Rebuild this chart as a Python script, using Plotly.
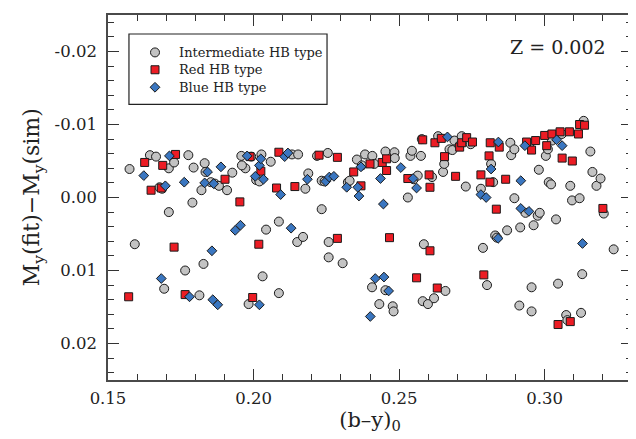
import plotly.graph_objects as go

# Intermediate HB type
int_x = [0.1574, 0.1592, 0.1644, 0.1665, 0.1677, 0.1686, 0.1693, 0.1709, 0.1709, 0.1727,
         0.1765, 0.1776, 0.1790, 0.1794, 0.1814, 0.1821, 0.1828, 0.1832, 0.1835, 0.1853,
         0.1867, 0.1881, 0.1909, 0.1927, 0.1958, 0.1972, 0.1960, 0.1983, 0.1992, 0.2009,
         0.2020, 0.2027, 0.2031, 0.2043, 0.2059, 0.2087, 0.2087, 0.2132, 0.2150, 0.2153,
         0.2170, 0.2178, 0.2188, 0.2218, 0.2234, 0.2234, 0.2244, 0.2255, 0.2258, 0.2258,
         0.2306, 0.2324, 0.2330, 0.2355, 0.2372, 0.2383, 0.2408, 0.2407, 0.2415, 0.2432,
         0.2453, 0.2453, 0.2478, 0.2481, 0.2484, 0.2485, 0.2530, 0.2539, 0.2544, 0.2550,
         0.2564, 0.2575, 0.2578, 0.2585, 0.2581, 0.2599, 0.2613, 0.2620, 0.2634, 0.2651,
         0.2655, 0.2659, 0.2673, 0.2683, 0.2690, 0.2715, 0.2729, 0.2746, 0.2781, 0.2788,
         0.2802, 0.2816, 0.2823, 0.2830, 0.2836, 0.2871, 0.2882, 0.2885, 0.2896, 0.2896,
         0.2913, 0.2916, 0.2934, 0.2955, 0.2955, 0.2962, 0.2976, 0.2980, 0.2983, 0.3004,
         0.3011, 0.3014, 0.3022, 0.3039, 0.3046, 0.3074, 0.3078, 0.3088, 0.3094, 0.3120,
         0.3125, 0.3129, 0.3134, 0.3157, 0.3164, 0.3178, 0.3192, 0.3203, 0.3237, 0.2948,
         0.3025, 0.3059, 0.2707]
int_y = [-0.0039, 0.0064, -0.0058, -0.0056, -0.0014, -0.0012, 0.0125, 0.0020, -0.0040, -0.0048,
         0.0100, -0.0058, 0.0007, -0.0041, 0.0134, -0.0010, 0.0091, -0.0047, -0.0035, -0.0021,
         -0.0019, -0.0016, -0.0010, -0.0034, -0.0057, -0.0040, -0.0044, 0.0146, -0.0056, -0.0024,
         -0.0022, -0.0059, 0.0108, 0.0044, -0.0049, 0.0033, 0.0131, -0.0059, 0.0061, -0.0059,
         0.0054, -0.0012, -0.0033, -0.0057, 0.0016, -0.0023, -0.0022, -0.0061, 0.0061, 0.0082,
         0.0090, -0.0021, -0.0023, -0.0052, -0.0044, -0.0059, -0.0057, 0.0123, -0.0046, 0.0146,
         -0.0063, 0.0127, 0.0149, 0.0156, -0.0062, -0.0054, 0.0000, -0.0057, -0.0064, -0.0025,
         -0.0030, -0.0057, -0.0080, 0.0064, 0.0142, 0.0146, -0.0028, 0.0138, -0.0084, -0.0035,
         -0.0046, 0.0128, -0.0066, -0.0065, -0.0078, -0.0084, -0.0015, -0.0073, -0.0012, 0.0069,
         0.0120, -0.0046, -0.0021, 0.0052, 0.0055, 0.0045, -0.0075, -0.0058, 0.0001, -0.0066,
         0.0148, 0.0041, 0.0021, 0.0123, 0.0156, 0.0038, 0.0025, -0.0038, 0.0021, -0.0057,
         -0.0066, -0.0021, -0.0018, 0.0030, 0.0118, 0.0161, 0.0168, -0.0016, 0.0004, 0.0001,
         0.0158, 0.0105, -0.0105, -0.0063, -0.0035, -0.0016, -0.0026, 0.0022, 0.0071, -0.0074,
         -0.0078, -0.0087, -0.0071]

# Red HB type
red_x = [0.1571, 0.1626, 0.1648, 0.1688, 0.1683, 0.1727, 0.1732, 0.1765, 0.1902, 0.1953,
         0.1988, 0.1997, 0.2018, 0.2025, 0.2079, 0.2087, 0.2142, 0.2225, 0.2288, 0.2288,
         0.2344, 0.2369, 0.2400, 0.2442, 0.2457, 0.2457, 0.2467, 0.2530, 0.2560, 0.2581,
         0.2603, 0.2606, 0.2606, 0.2623, 0.2631, 0.2645, 0.2656, 0.2694, 0.2708, 0.2715,
         0.2732, 0.2752, 0.2781, 0.2791, 0.2809, 0.2813, 0.2812, 0.2834, 0.2844, 0.2866,
         0.2938, 0.2955, 0.2969, 0.3000, 0.3007, 0.3025, 0.3046, 0.3053, 0.3060, 0.3088,
         0.3085, 0.3095, 0.3116, 0.3120, 0.3137, 0.3200]
red_y = [0.0136, -0.0048, -0.0010, -0.0044, -0.0013, 0.0068, -0.0059, 0.0133, -0.0025, 0.0006,
         -0.0056, 0.0137, 0.0064, -0.0036, -0.0013, -0.0062, -0.0015, -0.0058, -0.0055, 0.0056,
         -0.0035, -0.0016, -0.0046, -0.0048, -0.0037, -0.0053, 0.0055, -0.0026, 0.0110, -0.0079,
         -0.0031, -0.0014, 0.0073, -0.0075, 0.0124, -0.0081, -0.0056, -0.0029, -0.0069, -0.0075,
         -0.0082, -0.0076, -0.0031, 0.0106, -0.0057, -0.0075, -0.0021, 0.0016, -0.0069, -0.0025,
         -0.0076, -0.0065, -0.0078, -0.0085, -0.0071, -0.0087, 0.0174, -0.0090, -0.0054, 0.0170,
         -0.0090, -0.0050, -0.0087, -0.0100, -0.0099, 0.0015]

# Blue HB type
blue_x = [0.1623, 0.1683, 0.1697, 0.1711, 0.1762, 0.1780, 0.1832, 0.1842, 0.1857, 0.1860,
          0.1863, 0.1877, 0.1888, 0.1937, 0.1955, 0.1978, 0.2006, 0.2020, 0.2020, 0.2025,
          0.2034, 0.2093, 0.2107, 0.2118, 0.2129, 0.2185, 0.2248, 0.2260, 0.2276, 0.2320,
          0.2358, 0.2362, 0.2369, 0.2401, 0.2418, 0.2436, 0.2446, 0.2448, 0.2464, 0.2506,
          0.2548, 0.2560, 0.2666, 0.2781, 0.2799, 0.2816, 0.2840, 0.2841, 0.2918, 0.2918,
          0.2932, 0.2946, 0.3041, 0.3060, 0.3130]
blue_y = [-0.0030, 0.0111, -0.0016, -0.0057, -0.0021, 0.0136, -0.0020, -0.0035, 0.0073, 0.0140,
          -0.0019, 0.0147, -0.0042, 0.0045, 0.0038, -0.0057, -0.0029, -0.0044, 0.0147, -0.0053,
          -0.0025, -0.0004, -0.0056, -0.0061, 0.0042, -0.0025, -0.0022, -0.0028, -0.0029, -0.0014,
          -0.0014, -0.0002, -0.0042, 0.0163, 0.0111, -0.0026, 0.0009, 0.0109, 0.0128, -0.0041,
          -0.0026, -0.0013, -0.0083, -0.0004, 0.0000, -0.0039, 0.0056, -0.0076, -0.0023, 0.0015,
          -0.0071, 0.0019, -0.0079, -0.0071, 0.0063]

y_tickvals = [-0.02, -0.01, 0.00, 0.01, 0.02]
y_ticktext = ["-0.02", "-0.01", "0.00", "0.01", "0.02"]
x_tickvals = [0.15, 0.20, 0.25, 0.30]
x_ticktext = ["0.15", "0.20", "0.25", "0.30"]

legend_names = ["Intermediate HB type", "Red HB type", "Blue HB type"]

FONT = "DejaVu Serif"
TXT = "#222222"
OUTLINE = dict(color="#1a1a1a", width=1)
styles = [
    dict(symbol="circle", size=9, color="#c3c3c3", line=OUTLINE),
    dict(symbol="square", size=8, color="#ec1c24", line=OUTLINE),
    dict(symbol="diamond", size=7.5, color="#3a76c0", line=OUTLINE),
]

fig = go.Figure()
for xs, ys, name, st in zip([int_x, red_x, blue_x], [int_y, red_y, blue_y], legend_names, styles):
    fig.add_trace(go.Scatter(x=xs, y=ys, mode="markers", name=name, marker=st, showlegend=False))

# legend (box, markers, labels) drawn in plot-area fractions
leg_x0, leg_x1, leg_top, leg_bot = 0.040, 0.418, 0.948, 0.755
leg_mx, leg_tx = 0.0897, 0.1317
leg_rows = [0.8975, 0.850, 0.802]
fig.add_shape(type="rect", xref="paper", yref="paper", x0=leg_x0, x1=leg_x1, y0=leg_bot, y1=leg_top,
              line=dict(color="#222222", width=1.2), fillcolor="white", layer="below")
for name, st, ry in zip(legend_names, styles, leg_rows):
    fig.add_trace(go.Scatter(x=[leg_mx], y=[ry], xaxis="x2", yaxis="y2", mode="markers",
                             marker=st, showlegend=False, hoverinfo="skip"))
    fig.add_annotation(x=leg_tx, y=ry, xref="paper", yref="paper", xanchor="left", yanchor="middle",
                       text=name, showarrow=False, font=dict(family=FONT, size=13, color=TXT))

axis_common = dict(showgrid=False, zeroline=False, showline=True, linecolor="#4a4a4a",
                   linewidth=1.5, mirror="ticks", ticks="inside", ticklen=11, tickwidth=1.2,
                   tickcolor="#333333", tickfont=dict(family=FONT, size=16.5, color=TXT))

fig.update_xaxes(range=[0.15, 0.33], tickvals=x_tickvals, ticktext=x_ticktext,
                 ticklabelstandoff=2,
                 minor=dict(dtick=0.01, tick0=0.15, ticks="inside", ticklen=6, tickcolor="#333333"),
                 title=dict(text="(b–y)<sub>0</sub>", font=dict(family=FONT, size=21, color=TXT),
                            standoff=3),
                 **axis_common)
fig.update_yaxes(range=[0.025, -0.025], tickvals=y_tickvals, ticktext=y_ticktext,
                 ticklabelstandoff=6,
                 minor=dict(dtick=0.002, tick0=0, ticks="inside", ticklen=6, tickcolor="#333333"),
                 **axis_common)

# y-axis title placed explicitly
fig.add_annotation(x=-0.143, y=0.501, xref="paper", yref="paper", xanchor="center", yanchor="middle",
                   textangle=-90, text="M<sub>y</sub>(fit)−M<sub>y</sub>(sim)", showarrow=False,
                   font=dict(family=FONT, size=22, color=TXT))

fig.add_annotation(x=0.954, y=0.913, xref="paper", yref="paper", xanchor="right", yanchor="middle",
                   text="Z = 0.002", showarrow=False, font=dict(family=FONT, size=19, color=TXT))

fig.update_layout(
    width=636, height=439,
    margin=dict(l=100, r=12, t=5, b=67),
    plot_bgcolor="white", paper_bgcolor="white",
    xaxis2=dict(overlaying="x", range=[0, 1], visible=False, fixedrange=True),
    yaxis2=dict(overlaying="y", range=[0, 1], visible=False, fixedrange=True),
    showlegend=False,
)

fig.write_html("out.html")
